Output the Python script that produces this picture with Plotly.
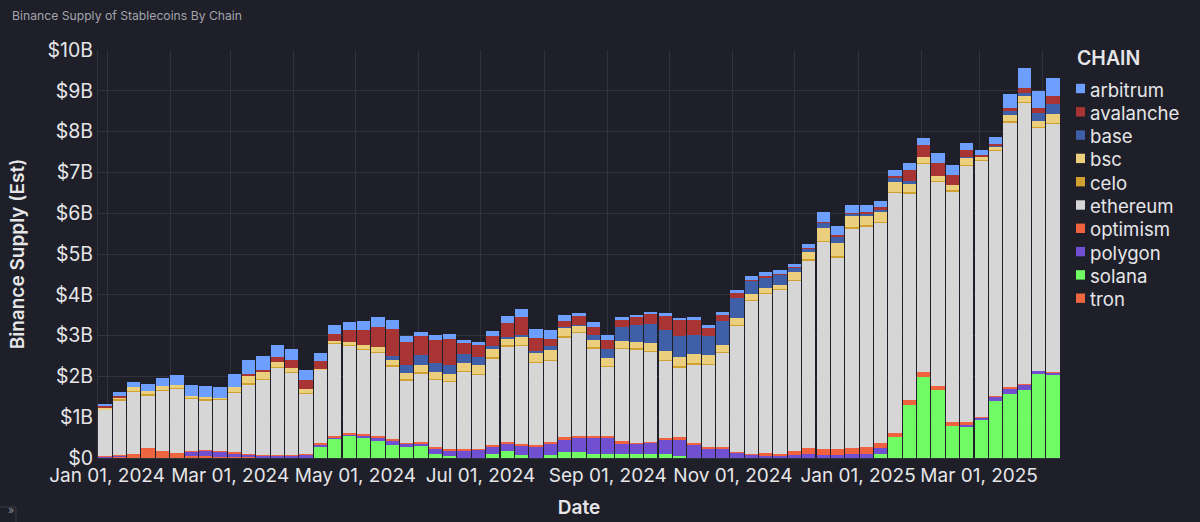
"""Binance supply of stablecoins by chain, weekly stacked bars on a dark background."""
import pandas as pd
import plotly.graph_objects as go

WEEKS = pd.date_range("2023-12-31", periods=67, freq="7D")

# $B per week
ARBITRUM = [.05, .08, .13, .16, .20, .23, .25, .28, .26, .32,
            .36, .35, .29, .27, .25, .20, .20, .20, .24, .25,
            .22, .14, .11, .12, .12, .07, .07, .13, .17, .18,
            .23, .21, .13, .09, .11, .11, .07, .05, .04, .06,
            .05, .06, .04, .07, .08, .08, .09, .09, .09, .09,
            .25, .21, .19, .16, .16, .15, .17, .19, .24, .24,
            .18, .11, .18, .34, .48, .42, .44]
AVALANCHE = [.04, .04, 0, 0, 0, 0, 0, 0, 0, 0,
             .04, .06, .11, .21, .22, .19, .18, .29, .36, .47,
             .65, .58, .47, .55, .63, .29, .30, .23, .35, .45,
             .32, .18, .15, .20, .20, .23, .17, .20, .25, .36,
             .39, .37, .21, .16, .12, .03, .03, .03, .01, .02,
             .02, .03, .02, .04, .07, .03, .25, .28, .31, .26,
             .16, .04, .02, .07, .12, .11, .19]
BASE = [0, 0, 0, 0, 0, 0, 0, 0, 0, 0,
        0, 0, 0, 0, 0, 0, 0, 0, 0, 0,
        .10, .18, .24, .22, .21, .21, .18, .09, .03, .04,
        .04, .10, .03, .02, .13, .23, .33, .41, .48, .51,
        .53, .48, .47, .57, .48, .33, .27, .24, .11, .08,
        .13, .18, .07, .05, .04, .11, .08, 0, 0, 0,
        .02, 0, .05, .11, .08, .20, .26]
BSC = [.03, .05, .09, .09, .09, .08, .06, .05, .03, .11,
       .18, .16, .12, .08, .09, .01, .05, .08, .10, .12,
       .14, .16, .18, .18, .18, .19, .23, .19, .17, .19,
       .23, .23, .21, .16, .18, .18, .18, .16, .19, .21,
       .22, .22, .22, .18, .17, .13, .12, .10, .18, .18,
       .31, .32, .27, .24, .26, .23, .21, .15, .13, .12,
       .18, .09, .06, .15, .14, .14, .20]
CELO = [.01, .02, .02, .02, .02, .02, .02, .02, .01, .02,
        .02, .02, .02, .02, .02, .01, .02, .02, .02, .02,
        .02, .02, .02, .02, .02, .02, .02, .02, .02, .02,
        .02, .02, .02, .02, .02, .02, .02, .02, .02, .02,
        .02, .02, .02, .02, .02, .02, .02, .02, .02, .02,
        .02, .02, .02, .02, .02, .02, .02, .02, .02, .02,
        .02, .02, .02, .02, .02, .02, .02]
ETHEREUM = [1.14, 1.35, 1.52, 1.30, 1.48, 1.58, 1.27, 1.22, 1.27, 1.46,
            1.70, 1.84, 2.15, 2.02, 1.47, 1.79, 2.25, 2.14, 2.06, 2.04,
            1.79, 1.53, 1.68, 1.64, 1.64, 1.90, 1.81, 2.14, 2.34, 2.42,
            2.00, 1.99, 2.45, 2.52, 2.14, 1.69, 2.27, 2.30, 2.20, 1.90,
            1.72, 1.94, 2.01, 2.31, 3.10, 3.75, 3.89, 4.02, 4.17, 4.60,
            5.07, 4.69, 5.38, 5.41, 5.38, 5.89, 5.08, 5.11, 5.00, 5.66,
            6.28, 6.28, 6.02, 6.50, 6.90, 5.97, 6.10]
OPTIMISM = [.01, .02, .03, .02, .02, .02, .02, .02, .02, .03,
            .03, .03, .02, .03, .03, .03, .05, .05, .03, .05,
            .04, .03, .04, .05, .05, .03, .03, .03, .04, .05,
            .06, .06, .08, .07, .07, .06, .07, .02, .02, .06,
            .06, .02, .04, .03, .02, .03, .07, .07, .10, .15,
            .15, .15, .15, .16, .14, .11, .10, .11, .10, .10,
            .07, .01, .01, .03, .01, 0, .01]
POLYGON = [.02, .02, 0, 0, 0, 0, .10, .12, .12, .09,
           .06, .05, .05, .05, .08, .07, .01, .02, .07, .09,
           .11, .07, .07, .12, .12, .18, .20, .17, .20, .22,
           .27, .27, .29, .34, .38, .40, .25, .26, .29, .34,
           .40, .34, .24, .24, .13, .08, .06, .04, .08, .10,
           .08, .08, .10, .11, .13, 0, 0, 0, 0, 0,
           .03, .07, .12, .12, .13, .08, .04]
SOLANA = [0, 0, 0, 0, 0, 0, 0, 0, 0, 0,
          0, 0, 0, 0, 0, .26, .49, .54, .49, .41,
          .31, .28, .29, .11, .06, .01, 0, .11, .16, .07,
          0, .07, .14, .14, .10, .09, .09, .09, .09, .09,
          .05, 0, 0, 0, 0, 0, 0, 0, 0, 0,
          0, 0, 0, 0, .11, .51, 1.31, 1.99, 1.67, .78,
          .78, .92, 1.39, 1.58, 1.67, 2.05, 2.05]
TRON = [.02, .03, .07, .22, .15, .10, .06, .06, .03, .03,
        .02, 0, 0, 0, 0, .01, 0, 0, 0, 0,
        0, 0, 0, 0, 0, 0, 0, 0, 0, 0,
        0, 0, 0, 0, 0, 0, 0, 0, 0, 0,
        0, 0, 0, 0, 0, 0, 0, 0, 0, 0,
        0, 0, 0, 0, 0, 0, 0, 0, 0, 0,
        0, 0, 0, 0, 0, 0, 0]

CHAINS = ["arbitrum", "avalanche", "base", "bsc", "celo",
          "ethereum", "optimism", "polygon", "solana", "tron"]
SERIES = [ARBITRUM, AVALANCHE, BASE, BSC, CELO,
          ETHEREUM, OPTIMISM, POLYGON, SOLANA, TRON]
COLORS = ["#6c9fff", "#a83434", "#3f5fa8", "#eccf7c", "#d0a030",
          "#d6d6d6", "#f0623f", "#7050d0", "#70fb65", "#ec663f"]

Y_TICKS = [0, 1, 2, 3, 4, 5, 6, 7, 8, 9, 10]
Y_LABELS = ["$0", "$1B", "$2B", "$3B", "$4B", "$5B", "$6B", "$7B", "$8B", "$9B", "$10B"]

MONTHS = ["2024-01-01", "2024-02-01", "2024-03-01", "2024-04-01", "2024-05-01", "2024-06-01",
          "2024-07-01", "2024-08-01", "2024-09-01", "2024-10-01", "2024-11-01", "2024-12-01",
          "2025-01-01", "2025-02-01", "2025-03-01", "2025-04-01"]
MONTH_LABELS = ["Jan 01, 2024", "", "Mar 01, 2024", "", "May 01, 2024", "",
                "Jul 01, 2024", "", "Sep 01, 2024", "", "Nov 01, 2024", "",
                "Jan 01, 2025", "", "Mar 01, 2025", ""]

BG = "#1e1f29"
GRID = "#31323c"
FONT = "Inter, sans-serif"
TEXT = "#e6e6e8"

# plot box in window pixels
LEFT, RIGHT, TOP, BOTTOM = 98, 1060, 50, 458
W, H = 1200, 522


def px(x):
    return (x - LEFT) / (RIGHT - LEFT)


def py(y):
    return (BOTTOM - y) / (BOTTOM - TOP)


fig = go.Figure()

# vega stacks from the end of the alphabet upward
for name, vals, color in reversed(list(zip(CHAINS, SERIES, COLORS))):
    fig.add_trace(go.Bar(
        x=WEEKS, y=vals, name=name, marker_color=color, marker_line_width=0,
        width=6.5 * 86400000, showlegend=False,
        hovertemplate=name + " %{x|%b %d, %Y}: $%{y:.2f}B<extra></extra>",
    ))

fig.update_layout(
    barmode="stack",
    width=W, height=H,
    paper_bgcolor=BG, plot_bgcolor=BG,
    margin=dict(l=LEFT, r=W - RIGHT, t=TOP, b=H - BOTTOM, pad=0, autoexpand=False),
    font=dict(family=FONT, color=TEXT, size=19),
    title=dict(text="Binance Supply of Stablecoins By Chain",
               x=12 / W, xref="container", xanchor="left",
               y=1 - 16 / H, yref="container", yanchor="middle",
               font=dict(size=12.2, color="#a4a4ac", family=FONT)),
)

fig.update_xaxes(
    range=["2023-12-27 14:00", "2025-04-09 10:00"],
    tickmode="array", tickvals=MONTHS, ticktext=MONTH_LABELS, tickangle=0,
    ticks="", automargin=False,
    tickfont=dict(size=19, color=TEXT),
    gridcolor=GRID, gridwidth=1, showline=True, linecolor=GRID, zeroline=False,
    title=dict(text="Date", font=dict(size=19, weight=600, color=TEXT), standoff=14),
)
fig.update_yaxes(
    range=[0, 10],
    tickmode="array", tickvals=Y_TICKS, ticktext=Y_LABELS,
    ticks="", automargin=False, tickfont=dict(size=19.5, color=TEXT),
    gridcolor=GRID, gridwidth=1, showline=True, linecolor=GRID, zeroline=False,
    title=dict(text="Binance Supply (Est)", font=dict(size=19, weight=600, color=TEXT), standoff=17),
)

# legend sits tight against its swatches, closer than plotly's own legend allows
fig.add_annotation(text="CHAIN", xref="paper", yref="paper", x=px(1075), y=py(58),
                   xanchor="left", yanchor="middle", showarrow=False,
                   font=dict(size=19.5, weight=600, color=TEXT))
for i, (name, color) in enumerate(zip(CHAINS, COLORS)):
    yc = 88.5 + 23.3 * i
    fig.add_shape(type="rect", xref="paper", yref="paper",
                  x0=px(1076), x1=px(1085), y0=py(yc - 4.7), y1=py(yc + 4.7),
                  fillcolor=color, line_width=0, layer="above")
    fig.add_annotation(text=name, xref="paper", yref="paper", x=px(1088), y=py(yc + 1),
                       xanchor="left", yanchor="middle", showarrow=False,
                       font=dict(size=18.6, color=TEXT))

# little collapse button in the corner of the screenshot
fig.add_shape(type="rect", xref="paper", yref="paper",
              x0=px(-2), x1=px(16), y0=py(507), y1=py(525),
              line=dict(color="#3a3b45", width=1), fillcolor=BG)
fig.add_annotation(text="»", xref="paper", yref="paper", x=px(6), y=py(519),
                   showarrow=False, font=dict(size=11, color="#8a8a92"))

# page default margin would push the figure off the window corner
fig.write_html("out.html", config={"displayModeBar": False},
               post_script="document.body.style.margin='0';document.body.style.background='#1e1f29';")
